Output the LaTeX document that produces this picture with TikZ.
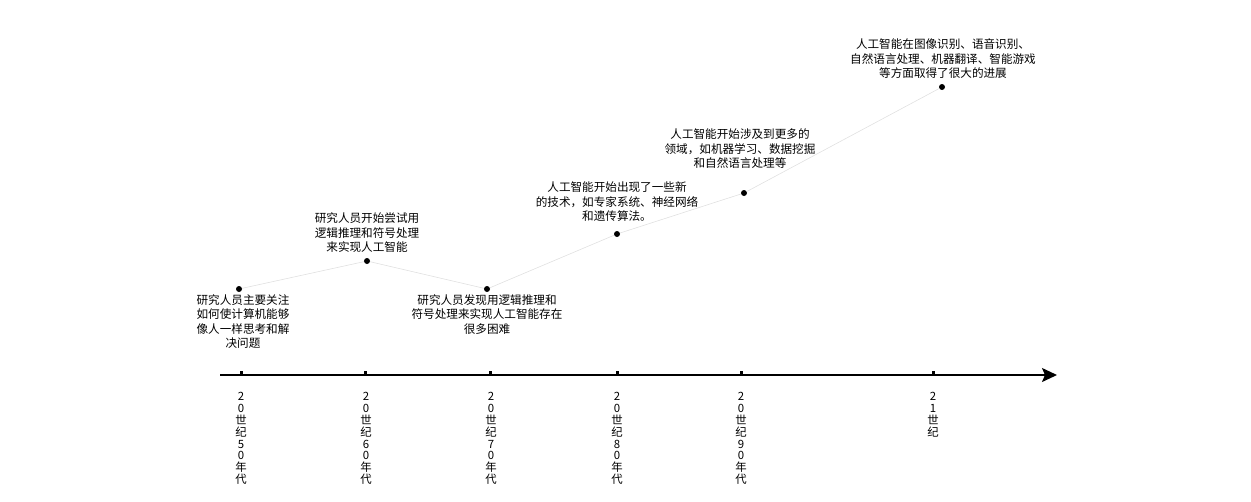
\documentclass[tikz,border=0pt]{standalone}
\usepackage{fontspec}
\setmainfont{Noto Sans CJK SC}
\usetikzlibrary{arrows.meta}
\begin{document}
\begin{tikzpicture}[x=1pt,y=-1pt,
  evtext/.style={align=center,font=\fontsize{11.6}{14.5}\selectfont,inner sep=0pt},
  ticklabel/.style={align=center,font=\fontsize{11.4}{11.9}\selectfont,inner sep=0pt,anchor=north},
  dotmark/.style={circle,fill=black,inner sep=0pt,minimum size=6pt},
  link/.style={draw=black!12,line width=0.6pt},
  tickmark/.style={fill=black,minimum width=3pt,minimum height=4pt,inner sep=0pt,anchor=south}]
\useasboundingbox (0,0) rectangle (1251,501);
% axis
\coordinate (axs) at (220,375);
\coordinate (axe) at (1057,375);
\draw[line width=1.6pt,-{Stealth[length=15pt,width=14pt,inset=3pt]}] (axs) -- (axe);
% tick marks
\foreach \n/\x in {t1/241,t2/365,t3/490,t4/617,t5/741,t6/933}{
  \node[tickmark] (\n) at (\x,375) {};
}
% tick labels
\node[ticklabel] (l1) at (241,392) {2\\0\\世\\纪\\5\\0\\年\\代};
\node[ticklabel] (l2) at (366,392) {2\\0\\世\\纪\\6\\0\\年\\代};
\node[ticklabel] (l3) at (491,392) {2\\0\\世\\纪\\7\\0\\年\\代};
\node[ticklabel] (l4) at (617,392) {2\\0\\世\\纪\\8\\0\\年\\代};
\node[ticklabel] (l5) at (741,392) {2\\0\\世\\纪\\9\\0\\年\\代};
\node[ticklabel] (l6) at (933,392) {2\\1\\世\\纪};
% event dots
\node[dotmark] (d1) at (239,289) {};
\node[dotmark] (d2) at (367,261) {};
\node[dotmark] (d3) at (487,289) {};
\node[dotmark] (d4) at (617,234) {};
\node[dotmark] (d5) at (744,193) {};
\node[dotmark] (d6) at (942,87) {};
\draw[link] (d1) -- (d2) -- (d3) -- (d4) -- (d5) -- (d6);
% event texts
\node[evtext,anchor=north] (e1) at (243,294) {研究人员主要关注\\如何使计算机能够\\像人一样思考和解\\决问题};
\node[evtext,anchor=south] (e2) at (367,253) {研究人员开始尝试用\\逻辑推理和符号处理\\来实现人工智能};
\node[evtext,anchor=north] (e3) at (487,294) {研究人员发现用逻辑推理和\\符号处理来实现人工智能存在\\很多困难};
\node[evtext,anchor=south] (e4) at (617,222) {人工智能开始出现了一些新\\的技术，如专家系统、神经网络\\和遗传算法。};
\node[evtext,anchor=south] (e5) at (740,169) {人工智能开始涉及到更多的\\领域，如机器学习、数据挖掘\\和自然语言处理等};
\node[evtext,anchor=south] (e6) at (943,79) {人工智能在图像识别、语音识别、\\自然语言处理、机器翻译、智能游戏\\等方面取得了很大的进展};
\end{tikzpicture}
\end{document}
